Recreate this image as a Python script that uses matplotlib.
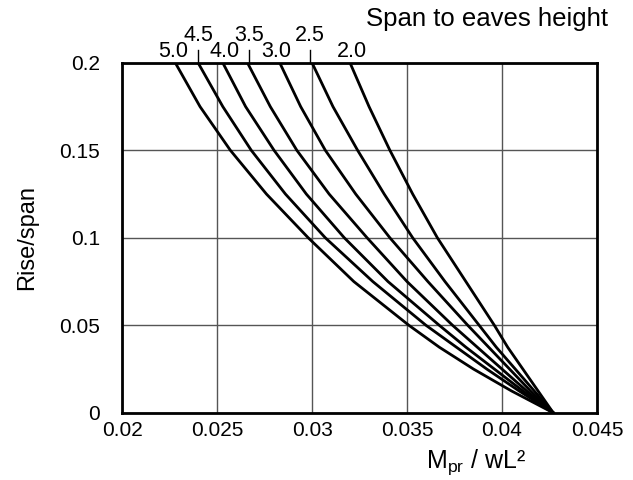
import matplotlib
matplotlib.use("Agg")
import matplotlib.pyplot as plt
from matplotlib.transforms import blended_transform_factory

plt.rcParams['font.family'] = ['Liberation Sans', 'DejaVu Sans']
plt.rcParams['mathtext.fontset'] = 'custom'
plt.rcParams['mathtext.rm'] = 'Liberation Sans'
plt.rcParams['mathtext.it'] = 'Liberation Sans'

# Rise/span levels
rise_span = [0.0, 0.0125, 0.025, 0.0375, 0.05, 0.075, 0.1, 0.125, 0.15, 0.175, 0.2]

# Span to eaves height ratios and M_pr/wL^2 values at each rise/span level
ratios = ["5.0", "4.5", "4.0", "3.5", "3.0", "2.5", "2.0"]
m_50 = [0.0427, 0.0405, 0.0385, 0.0367, 0.0351, 0.0322, 0.0298, 0.0276, 0.0257, 0.0241, 0.0228]
m_45 = [0.0427, 0.0409, 0.0392, 0.0376, 0.0360, 0.0332, 0.0307, 0.0286, 0.0268, 0.0253, 0.0240]
m_40 = [0.0427, 0.0411, 0.0396, 0.0381, 0.0367, 0.0340, 0.0317, 0.0297, 0.0280, 0.0265, 0.0253]
m_35 = [0.0427, 0.0413, 0.0400, 0.0387, 0.0374, 0.0350, 0.0329, 0.0309, 0.0292, 0.0278, 0.0266]
m_30 = [0.0427, 0.0415, 0.0404, 0.0393, 0.0382, 0.0361, 0.0341, 0.0323, 0.0307, 0.0294, 0.0283]
m_25 = [0.0427, 0.0417, 0.0407, 0.0397, 0.0388, 0.0370, 0.0353, 0.0338, 0.0324, 0.0311, 0.0300]
m_20 = [0.0427, 0.0419, 0.0411, 0.0403, 0.0396, 0.0381, 0.0366, 0.0353, 0.0341, 0.0330, 0.0320]
series = [m_50, m_45, m_40, m_35, m_30, m_25, m_20]

x_ticks = [0.02, 0.025, 0.03, 0.035, 0.04, 0.045]
x_tick_labels = ["0.02", "0.025", "0.03", "0.035", "0.04", "0.045"]
y_ticks = [0, 0.05, 0.1, 0.15, 0.2]
y_tick_labels = ["0", "0.05", "0.1", "0.15", "0.2"]

# label x positions (data) and whether raised with a leader tick
label_x = [0.0227, 0.0240, 0.0254, 0.0267, 0.0281, 0.0299, 0.0321]
raised = [False, True, False, True, False, True, False]

fig = plt.figure(figsize=(6.33, 4.8), dpi=100)
ax = fig.add_axes([0.193, 0.140, 0.750, 0.729])

for vals in series:
    ax.plot(vals, rise_span, color='black', lw=2.0, solid_joinstyle='round')

ax.set_xlim(0.02, 0.045)
ax.set_ylim(0, 0.2)
ax.set_xticks(x_ticks)
ax.set_xticklabels(x_tick_labels)
ax.set_yticks(y_ticks)
ax.set_yticklabels(y_tick_labels)
ax.tick_params(length=0, labelsize=15)
ax.tick_params(axis='y', pad=16)
ax.tick_params(axis='x', pad=6)
ax.grid(True, color='#555555', lw=1.0)
ax.set_axisbelow(True)
for s in ax.spines.values():
    s.set_linewidth(2.0)

fig.text(27 / 633, 1 - 238 / 480, "Rise/span", rotation=90, ha='center', va='center', fontsize=17)
fig.text(476 / 633, 1 - 462 / 480, r"M$_{\rm pr}$ / wL²", ha='center', va='center', fontsize=18)

trans = blended_transform_factory(ax.transData, ax.transAxes)
for lab, lx, r in zip(ratios, label_x, raised):
    if r:
        ax.text(lx, 1.078, lab, transform=trans, ha='center', va='center', fontsize=15.5, clip_on=False)
        ax.plot([lx, lx], [1.0, 1.037], transform=trans, color='black', lw=1.0, clip_on=False)
    else:
        ax.text(lx, 1.033, lab, transform=trans, ha='center', va='center', fontsize=15.5, clip_on=False)

fig.text(608 / 633, 1 - 19 / 480, "Span to eaves height", ha='right', va='center', fontsize=18.5)

fig.savefig("out.png", dpi=100)
